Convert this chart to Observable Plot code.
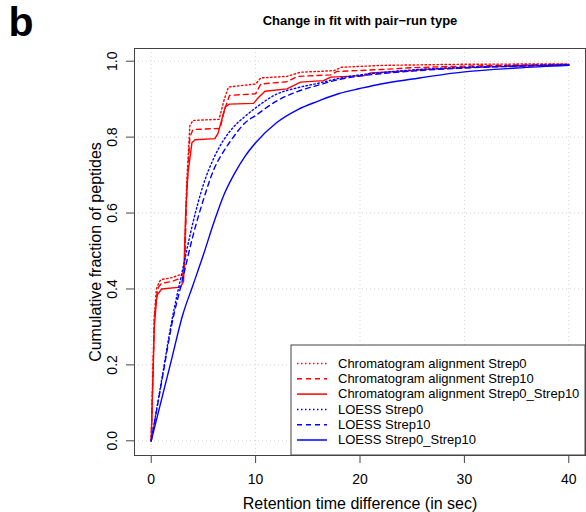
<!DOCTYPE html>
<html>
<head>
<meta charset="utf-8">
<script src="https://cdn.jsdelivr.net/npm/d3@7"></script>
<script src="https://cdn.jsdelivr.net/npm/@observablehq/plot@0.6"></script>
<style>
  html, body { margin: 0; padding: 0; background: #fff; }
  #chart { width: 586px; height: 512px; }
</style>
</head>
<body>
<div id="chart"></div>
<script>
// ---------------- data ----------------
const panelLetter = "b";
const chartTitle = "Change in fit with pair\u2212run type";
const xLabel = "Retention time difference (in sec)";
const yLabel = "Cumulative fraction of peptides";
const xTicks = [0, 10, 20, 30, 40];
const yTicks = [0, 0.2, 0.4, 0.6, 0.8, 1.0];

const seriesNames = [
  "Chromatogram alignment Strep0",
  "Chromatogram alignment Strep10",
  "Chromatogram alignment Strep0_Strep10",
  "LOESS Strep0",
  "LOESS Strep10",
  "LOESS Strep0_Strep10"
];

// [retention time difference, cumulative fraction]
const caStrep0 = [[0,0],[0.3,0.33],[0.5,0.40],[0.8,0.42],[1,0.425],[2,0.43],[3,0.44],[3.2,0.47],[3.4,0.68],[3.7,0.83],[4,0.844],[6.5,0.847],[7,0.90],[7.4,0.932],[10,0.94],[10.5,0.956],[13,0.96],[14.3,0.971],[17.5,0.975],[18.2,0.984],[22,0.989],[30,0.992],[40,0.993]];
const caStrep10 = [[0,0],[0.3,0.32],[0.5,0.38],[0.7,0.405],[1,0.415],[2,0.42],[3,0.43],[3.2,0.46],[3.4,0.65],[3.7,0.80],[4,0.82],[6.6,0.823],[7,0.87],[7.5,0.91],[10,0.914],[10.5,0.94],[13,0.946],[14,0.96],[17.2,0.964],[17.8,0.973],[22,0.978],[25,0.983],[30,0.987],[35,0.99],[40,0.992]];
const caStrep0_10 = [[0,0],[0.3,0.30],[0.5,0.37],[0.6,0.385],[1,0.40],[2.8,0.405],[3.1,0.42],[3.3,0.60],[3.5,0.70],[3.9,0.785],[4.2,0.793],[6.1,0.796],[6.4,0.81],[7.1,0.88],[7.5,0.887],[9.8,0.889],[10.3,0.905],[10.9,0.921],[13,0.927],[14.3,0.945],[16.5,0.949],[17.2,0.958],[20.4,0.962],[21,0.969],[24.8,0.975],[26,0.978],[30,0.983],[35,0.987],[40,0.99]];
const loessStrep0 = [[0,0],[1,0.16],[2,0.32],[3,0.45],[4,0.575],[5,0.675],[6,0.745],[7,0.795],[8,0.83],[9,0.855],[10,0.877],[12,0.913],[14,0.93],[16,0.942],[18,0.955],[20,0.964],[22,0.97],[25,0.977],[30,0.984],[35,0.988],[40,0.991]];
const loessStrep10 = [[0,0],[1,0.155],[2,0.31],[3,0.425],[4,0.54],[5,0.635],[6,0.715],[7,0.765],[8,0.805],[9,0.838],[10,0.857],[12,0.895],[14,0.92],[16,0.937],[18,0.952],[20,0.961],[22,0.967],[25,0.974],[30,0.982],[35,0.987],[40,0.99]];
const loessStrep0_10 = [[0,0],[1,0.11],[2,0.22],[3,0.33],[4,0.41],[5,0.49],[6,0.575],[7,0.65],[8,0.705],[9,0.75],[10,0.785],[12,0.838],[14,0.872],[16,0.895],[18,0.915],[20,0.928],[22,0.94],[25,0.953],[30,0.972],[35,0.982],[40,0.989]];

const seriesData = [caStrep0, caStrep10, caStrep0_10, loessStrep0, loessStrep10, loessStrep0_10];

// ---------------- styles ----------------
const FONT = "'Liberation Sans', Arial, Helvetica, sans-serif";
const styles = [
  {stroke: "#ff0000", dash: "1.5,2.5", curve: "linear"},
  {stroke: "#ff0000", dash: "5,4", curve: "linear"},
  {stroke: "#ff0000", dash: null, curve: "linear"},
  {stroke: "#0000ff", dash: "1.5,2.5", curve: "monotone-x"},
  {stroke: "#0000ff", dash: "5,4", curve: "monotone-x"},
  {stroke: "#0000ff", dash: null, curve: "monotone-x"}
];

const lineMarks = seriesData.map((pts, i) => Plot.line(pts, {
  x: d => d[0], y: d => d[1],
  stroke: styles[i].stroke,
  strokeWidth: 1.4,
  strokeDasharray: styles[i].dash,
  curve: styles[i].curve
}));

const plot = Plot.plot({
  width: 586,
  height: 512,
  marginLeft: 134,
  marginRight: 1,
  marginTop: 48,
  marginBottom: 57,
  style: {fontFamily: FONT, background: "#fff", color: "#000"},
  x: {domain: [-1.6, 41.6]},
  y: {domain: [-0.0387, 1.0335]},
  marks: [
    Plot.gridX(xTicks, {stroke: "#d3d3d3", strokeOpacity: 1, strokeDasharray: "1,3", strokeWidth: 1}),
    Plot.gridY(yTicks, {stroke: "#d3d3d3", strokeOpacity: 1, strokeDasharray: "1,3", strokeWidth: 1}),
    ...lineMarks,
    Plot.frame({stroke: "#444", strokeWidth: 1}),
    Plot.axisX({ticks: xTicks, tickSize: 8, tickPadding: 11, fontSize: 14, label: null, stroke: "#444"}),
    Plot.axisY({ticks: yTicks, tickSize: 8, tickFormat: () => "", label: null, stroke: "#444"}),
    Plot.text(yTicks, {y: d => d, text: d => d3.format(".1f")(d), frameAnchor: "left", dx: -22, rotate: -90, fontSize: 14, lineAnchor: "middle", textAnchor: "middle"}),
    Plot.text([yLabel], {frameAnchor: "left", dx: -39, rotate: -90, fontSize: 16, lineAnchor: "middle", textAnchor: "middle"}),
    Plot.text([xLabel], {frameAnchor: "bottom", dy: 48, fontSize: 16, lineAnchor: "middle"}),
    Plot.text([chartTitle], {frameAnchor: "top", dy: -28, fontSize: 13, fontWeight: "bold", lineAnchor: "middle"}),
    Plot.text([panelLetter], {frameAnchor: "top-left", dx: -126, dy: -26, fontSize: 41, fontWeight: "bold", textAnchor: "start", lineAnchor: "middle"})
  ]
});

document.getElementById("chart").appendChild(plot);

// ---------------- legend (bottom-right, R style) ----------------
const svg = d3.select(plot);
const xs = plot.scale("x"), ys = plot.scale("y");
const frameRight = xs.range[1];
const frameBottom = ys.range[0];
const boxW = frameRight - 291, boxH = 110;
const g = svg.append("g").attr("font-family", FONT).attr("text-anchor", "start");
g.append("rect")
  .attr("x", frameRight - boxW).attr("y", frameBottom - boxH)
  .attr("width", boxW).attr("height", boxH)
  .attr("fill", "#fff").attr("stroke", "#444").attr("stroke-width", 1);
const rowGap = 15.3;
const firstRow = frameBottom - boxH + 18;
seriesNames.forEach((name, i) => {
  const yy = firstRow + i * rowGap;
  g.append("line")
    .attr("x1", frameRight - boxW + 6).attr("x2", frameRight - boxW + 36)
    .attr("y1", yy + 0.5).attr("y2", yy + 0.5)
    .attr("stroke", styles[i].stroke).attr("stroke-width", 1.5)
    .attr("stroke-dasharray", styles[i].dash);
  g.append("text")
    .attr("x", frameRight - boxW + 47).attr("y", yy)
    .attr("dy", "0.36em")
    .attr("font-size", 13)
    .attr("text-anchor", "start")
    .attr("fill", "#000")
    .text(name);
});
</script>
</body>
</html>
